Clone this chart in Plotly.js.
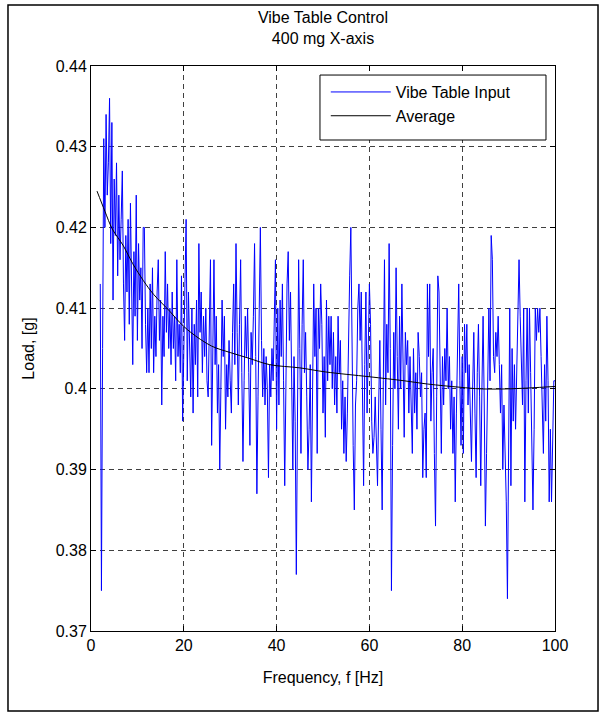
<!DOCTYPE html>
<html>
<head>
<meta charset="utf-8">
<script src="https://cdn.plot.ly/plotly-3.0.1.min.js"></script>
<style>
  html, body { margin: 0; padding: 0; background: #ffffff; }
  #chart { width: 604px; height: 713px; }
</style>
</head>
<body>
<div id="chart"></div>
<script>
// ---- Data ----
const chartTitle = "Vibe Table Control<br>400 mg X-axis";
const xAxisTitle = "Frequency, f [Hz]";
const yAxisTitle = "Load, [g]";
const seriesNames = ["Vibe Table Input", "Average"];

// Vibe table input: evenly sampled from 2 Hz in 0.25 Hz steps up to 100 Hz
const freqStart = 2;
const freqStep = 0.25;
const inputLoad = [
  // 2.00 - 6.75
  0.413, 0.375, 0.405, 0.431, 0.420, 0.434, 0.424, 0.428, 0.436, 0.418,
  0.433, 0.411, 0.426, 0.419, 0.428, 0.414, 0.424, 0.416, 0.421, 0.427,
  // 7.00 - 11.75
  0.413, 0.406, 0.419, 0.412, 0.421, 0.408, 0.423, 0.410, 0.403, 0.417,
  0.409, 0.424, 0.406, 0.418, 0.411, 0.415, 0.405, 0.420, 0.420, 0.408,
  // 12.00 - 16.75
  0.402, 0.410, 0.402, 0.413, 0.405, 0.415, 0.402, 0.409, 0.404, 0.412,
  0.416, 0.406, 0.411, 0.398, 0.409, 0.404, 0.417, 0.407, 0.413, 0.405,
  // 17.00 - 21.75
  0.410, 0.403, 0.412, 0.405, 0.409, 0.401, 0.416, 0.404, 0.408, 0.402,
  0.414, 0.396, 0.407, 0.413, 0.421, 0.401, 0.412, 0.404, 0.399, 0.410,
  // 22.00 - 26.75
  0.397, 0.408, 0.403, 0.411, 0.399, 0.418, 0.407, 0.412, 0.402, 0.409,
  0.404, 0.410, 0.401, 0.399, 0.408, 0.416, 0.393, 0.405, 0.416, 0.403,
  // 27.00 - 31.75
  0.409, 0.397, 0.403, 0.390, 0.402, 0.411, 0.404, 0.409, 0.395, 0.403,
  0.399, 0.406, 0.401, 0.397, 0.407, 0.413, 0.403, 0.418, 0.407, 0.398,
  // 32.00 - 36.75
  0.408, 0.416, 0.402, 0.391, 0.401, 0.409, 0.404, 0.410, 0.402, 0.393,
  0.407, 0.403, 0.409, 0.418, 0.404, 0.387, 0.399, 0.410, 0.420, 0.406,
  // 37.00 - 41.75
  0.399, 0.405, 0.398, 0.404, 0.400, 0.389, 0.403, 0.399, 0.405, 0.401,
  0.410, 0.416, 0.395, 0.410, 0.398, 0.411, 0.404, 0.413, 0.401, 0.388,
  // 42.00 - 46.75
  0.400, 0.413, 0.417, 0.406, 0.412, 0.400, 0.390, 0.404, 0.396, 0.377,
  0.398, 0.416, 0.405, 0.392, 0.408, 0.416, 0.402, 0.407, 0.399, 0.390,
  // 47.00 - 51.75
  0.395, 0.403, 0.386, 0.399, 0.413, 0.404, 0.410, 0.392, 0.410, 0.405,
  0.413, 0.408, 0.397, 0.404, 0.394, 0.411, 0.401, 0.409, 0.403, 0.409,
  // 52.00 - 56.75
  0.400, 0.407, 0.398, 0.404, 0.397, 0.409, 0.402, 0.406, 0.395, 0.401,
  0.392, 0.399, 0.391, 0.397, 0.408, 0.414, 0.420, 0.404, 0.393, 0.385,
  // 57.00 - 61.75
  0.398, 0.401, 0.410, 0.413, 0.406, 0.412, 0.395, 0.388, 0.403, 0.412,
  0.397, 0.406, 0.413, 0.408, 0.396, 0.392, 0.394, 0.399, 0.391, 0.388,
  // 62.00 - 66.75
  0.398, 0.406, 0.395, 0.385, 0.401, 0.416, 0.398, 0.408, 0.402, 0.418,
  0.405, 0.375, 0.393, 0.407, 0.400, 0.415, 0.404, 0.395, 0.409, 0.400,
  // 67.00 - 71.75
  0.413, 0.401, 0.394, 0.407, 0.403, 0.406, 0.397, 0.404, 0.399, 0.392,
  0.405, 0.397, 0.402, 0.395, 0.407, 0.404, 0.399, 0.402, 0.389, 0.395,
  // 72.00 - 76.75
  0.397, 0.389, 0.413, 0.404, 0.413, 0.396, 0.402, 0.405, 0.392, 0.383,
  0.399, 0.414, 0.412, 0.404, 0.392, 0.404, 0.398, 0.405, 0.401, 0.410,
  // 77.00 - 81.75
  0.400, 0.404, 0.395, 0.401, 0.392, 0.399, 0.386, 0.397, 0.405, 0.413,
  0.401, 0.393, 0.404, 0.392, 0.408, 0.402, 0.408, 0.398, 0.403, 0.395,
  // 82.00 - 86.75
  0.391, 0.400, 0.407, 0.397, 0.389, 0.402, 0.408, 0.399, 0.388, 0.400,
  0.409, 0.398, 0.383, 0.392, 0.403, 0.410, 0.401, 0.419, 0.416, 0.404,
  // 87.00 - 91.75
  0.402, 0.407, 0.404, 0.409, 0.403, 0.397, 0.403, 0.390, 0.398, 0.393,
  0.386, 0.374, 0.392, 0.410, 0.388, 0.405, 0.396, 0.403, 0.395, 0.401,
  // 92.00 - 96.75
  0.408, 0.416, 0.409, 0.403, 0.398, 0.410, 0.386, 0.401, 0.410, 0.397,
  0.410, 0.402, 0.392, 0.385, 0.395, 0.410, 0.406, 0.410, 0.407, 0.410,
  // 97.00 - 100.00
  0.404, 0.399, 0.392, 0.403, 0.396, 0.409, 0.401, 0.386, 0.395, 0.386,
  0.397, 0.401, 0.401
];

// Average curve
const avgFreq = [1.3, 3, 4.6, 7, 9, 11.3, 13.5, 17, 19, 21.5, 26, 30, 34, 38.5, 45, 50.5, 60, 67.5, 72.5, 79.5, 84, 90, 100];
const avgLoad = [0.4245, 0.4220, 0.4198, 0.4177, 0.4155, 0.4134, 0.4117, 0.4096, 0.4083, 0.4070, 0.4053, 0.4045, 0.4038, 0.4030, 0.4026, 0.4021, 0.4015, 0.4010, 0.4006, 0.4002, 0.4000, 0.4000, 0.4003];

// Axis ticks
const xTickVals = [0, 20, 40, 60, 80, 100];
const yTickVals = [0.37, 0.38, 0.39, 0.40, 0.41, 0.42, 0.43, 0.44];
const yTickText = ["0.37", "0.38", "0.39", "0.4", "0.41", "0.42", "0.43", "0.44"];

// ---- Figure ----
const FONT = "Liberation Sans, Arial, Helvetica, sans-serif";
const FS = 16;

const traces = [
  {
    type: "scatter", mode: "lines", name: seriesNames[0],
    x0: freqStart, dx: freqStep, y: inputLoad,
    line: { color: "#0000ff", width: 1 }
  },
  {
    type: "scatter", mode: "lines", name: seriesNames[1],
    x: avgFreq, y: avgLoad, line: { color: "#000000", width: 1, shape: "spline" }
  }
];

const axisCommon = {
  showline: true, linecolor: "#000000", linewidth: 1, mirror: "ticks",
  ticks: "inside", ticklen: 5, tickcolor: "#000000", tickwidth: 1,
  showgrid: true, gridcolor: "rgba(0,0,0,0.75)", griddash: "5px,4px", gridwidth: 1,
  zeroline: false, tickfont: { family: FONT, size: FS, color: "#000000" }
};

const layout = {
  width: 604, height: 713,
  margin: { l: 91, r: 49, t: 66, b: 82 },
  paper_bgcolor: "#ffffff", plot_bgcolor: "#ffffff",
  font: { family: FONT, size: FS, color: "#000000" },
  title: {
    text: chartTitle, x: 0.5, xref: "paper", xanchor: "center",
    y: 0.968, yref: "container", yanchor: "top",
    font: { family: FONT, size: FS, color: "#000000" }
  },
  xaxis: Object.assign({}, axisCommon, {
    range: [0, 100], tickmode: "array", tickvals: xTickVals,
    title: { text: xAxisTitle, font: { family: FONT, size: FS }, standoff: 18 }
  }),
  yaxis: Object.assign({}, axisCommon, {
    range: [0.37, 0.44], tickmode: "array", tickvals: yTickVals, ticktext: yTickText,
    title: { text: yAxisTitle, font: { family: FONT, size: FS }, standoff: 17 }
  }),
  showlegend: true,
  legend: {
    x: 0.506, y: 0.984, xanchor: "left", yanchor: "top",
    bgcolor: "rgba(0,0,0,0)", borderwidth: 0,
    itemwidth: 60, tracegroupgap: 0,
    font: { family: FONT, size: FS, color: "#000000" }
  },
  shapes: [
    { type: "rect", xref: "paper", yref: "paper", x0: 0.4935, x1: 0.9806, y0: 0.869, y1: 0.984,
      fillcolor: "#ffffff", line: { color: "#000000", width: 1 }, layer: "above" },
    { type: "rect", xref: "paper", yref: "paper", x0: -0.1789, x1: 1.0927, y0: -0.1416, y1: 1.108,
      fillcolor: "rgba(0,0,0,0)", line: { color: "#000000", width: 1.5 }, layer: "above" }
  ]
};

Plotly.newPlot("chart", traces, layout, { displayModeBar: false, staticPlot: true });
</script>
</body>
</html>
